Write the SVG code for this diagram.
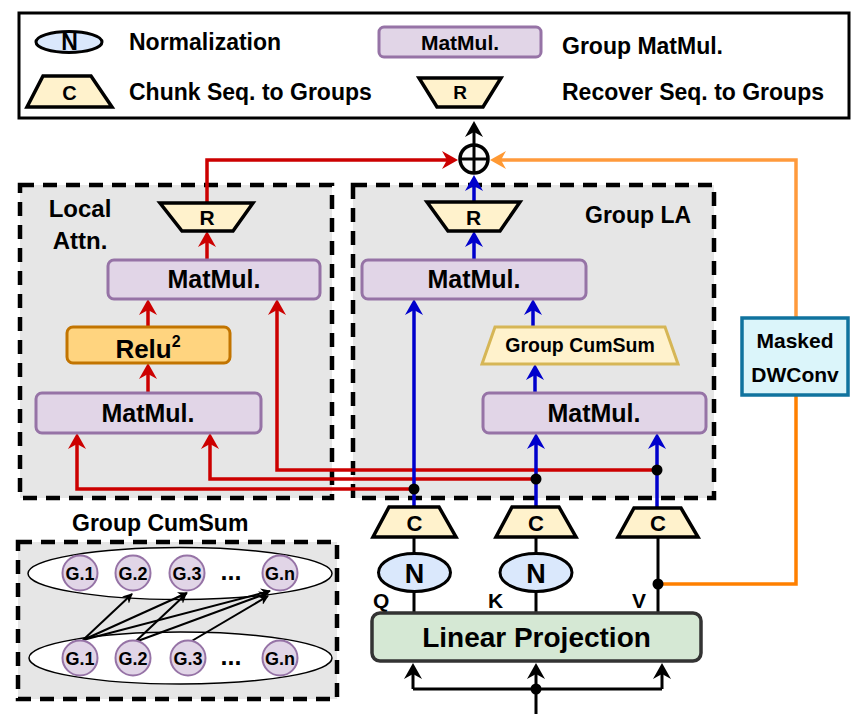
<svg xmlns="http://www.w3.org/2000/svg" width="864" height="714" viewBox="0 0 864 714">
<defs>
<style>
.t{font-family:"Liberation Sans",Arial,Helvetica,sans-serif;font-weight:bold;fill:#000}
.m{text-anchor:middle}
.cont{fill:#e6e6e6;stroke:#000;stroke-width:4.5;stroke-dasharray:14 9}
.mm{fill:#e1d5e7;stroke:#9673a6;stroke-width:3}
.trap{fill:#fff2cc;stroke:#000;stroke-width:3.5;stroke-linejoin:miter}
.nrm{fill:#dae8fc;stroke:#000;stroke-width:3}
.red{fill:none;stroke:#cc0000;stroke-width:3.5}
.blue{fill:none;stroke:#0000cc;stroke-width:3.5}
.blk{fill:none;stroke:#000;stroke-width:3}
.thin{fill:none;stroke:#000;stroke-width:2}
.dot{fill:#000}
.g{fill:#e1d5e7;stroke:#9673a6;stroke-width:2}
.ell{fill:#fff;stroke:#000;stroke-width:1.5}
</style>
<marker id="aRed" viewBox="0 0 16 18" markerWidth="16" markerHeight="18" refX="8" refY="9" orient="auto" markerUnits="userSpaceOnUse"><path d="M0,0 L16,9 L0,18 L5,9 Z" fill="#cc0000"/></marker>
<marker id="aBlue" viewBox="0 0 16 18" markerWidth="16" markerHeight="18" refX="8" refY="9" orient="auto" markerUnits="userSpaceOnUse"><path d="M0,0 L16,9 L0,18 L5,9 Z" fill="#0000cc"/></marker>
<marker id="aBlk" viewBox="0 0 16 18" markerWidth="16" markerHeight="18" refX="8" refY="9" orient="auto" markerUnits="userSpaceOnUse"><path d="M0,0 L16,9 L0,18 L5,9 Z" fill="#000"/></marker>
<marker id="aOr" viewBox="0 0 16 18" markerWidth="16" markerHeight="18" refX="8" refY="9" orient="auto" markerUnits="userSpaceOnUse"><path d="M0,0 L16,9 L0,18 L5,9 Z" fill="#ff9933"/></marker>
<marker id="aSm" viewBox="0 0 10 10" markerWidth="10" markerHeight="10" refX="9" refY="5" orient="auto" markerUnits="userSpaceOnUse"><path d="M0,0 L10,5 L0,10 L3,5 Z" fill="#000"/></marker>
</defs>

<!-- Legend -->
<g id="legend">
<rect x="19" y="13" width="830" height="105" fill="#fff" stroke="#000" stroke-width="3"/>
<ellipse cx="69" cy="42" rx="33" ry="10.5" class="nrm"/>
<text x="69.5" y="50" class="t m" font-size="23">N</text>
<text x="129" y="50" class="t" font-size="23">Normalization</text>
<rect x="379" y="27" width="162" height="30" rx="5" class="mm"/>
<text x="460" y="50" class="t m" font-size="21">MatMul.</text>
<text x="562" y="54" class="t" font-size="23">Group MatMul.</text>
<polygon points="43,76 91,76 112,107 27,107" class="trap" stroke-width="3"/>
<text x="69.5" y="100" class="t m" font-size="20">C</text>
<text x="129" y="100" class="t" font-size="23">Chunk Seq. to Groups</text>
<polygon points="419,78 501,78 483,107 437,107" class="trap" stroke-width="3"/>
<text x="460" y="99" class="t m" font-size="19">R</text>
<text x="562" y="100" class="t" font-size="23">Recover Seq. to Groups</text>
</g>

<!-- Containers -->
<g id="local-attn">
<rect x="20" y="185" width="312" height="313" class="cont"/>
<text x="80" y="217" class="t m" font-size="24">Local</text>
<text x="80" y="249" class="t m" font-size="24">Attn.</text>
</g>
<g id="group-la">
<rect x="353" y="185" width="361" height="313" class="cont"/>
<text x="585" y="223" class="t" font-size="23">Group LA</text>
</g>
<g id="group-cumsum-panel">
<text x="72" y="531" class="t" font-size="23">Group CumSum</text>
<rect x="18" y="542" width="319" height="157" class="cont"/>
<ellipse cx="180" cy="573.5" rx="152" ry="26" class="ell"/>
<ellipse cx="180.5" cy="658" rx="151.5" ry="26" class="ell"/>
</g>

<!-- Connectors -->
<g id="connectors">
<!-- output -->
<path d="M474,145 V129" class="blk" stroke-width="3.5" marker-end="url(#aBlk)"/>
<path d="M207,203 V160 H450" class="red" marker-end="url(#aRed)"/>
<path d="M796,318 V160 H498" fill="none" stroke="#ff9a3c" stroke-width="3.5" marker-end="url(#aOr)"/>
<path d="M658,584 H796 V395" fill="none" stroke="#ff8000" stroke-width="3.5"/>
<!-- local attn -->
<path d="M207,260 V239" class="red" marker-end="url(#aRed)"/>
<path d="M148,327 V307" class="red" marker-end="url(#aRed)"/>
<path d="M148,393 V371" class="red" marker-end="url(#aRed)"/>
<path d="M657,470 H277 V307" class="red" marker-end="url(#aRed)"/>
<path d="M536,479 H210 V441" class="red" marker-end="url(#aRed)"/>
<path d="M414,489 H77 V441" class="red" marker-end="url(#aRed)"/>
<!-- group la -->
<path d="M414,507 V307" class="blue" marker-end="url(#aBlue)"/>
<path d="M536,507 V441" class="blue" marker-end="url(#aBlue)"/>
<path d="M657,508 V441" class="blue" marker-end="url(#aBlue)"/>
<path d="M535,393 V372" class="blue" marker-end="url(#aBlue)"/>
<path d="M533,327 V307" class="blue" marker-end="url(#aBlue)"/>
<path d="M474,260 V239" class="blue" marker-end="url(#aBlue)"/>
<path d="M474,202 V183" class="blue" marker-end="url(#aBlue)"/>
<!-- QKV -->
<path d="M414,537 V553 M414,592 V613" class="blk"/>
<path d="M536,537 V553 M536,592 V613" class="blk"/>
<path d="M658,537 V613" class="blk"/>
<path d="M536,714 V689 M413,689 H662" class="blk"/>
<path d="M413,689 V671" class="blk" marker-end="url(#aBlk)"/>
<path d="M536,689 V671" class="blk" marker-end="url(#aBlk)"/>
<path d="M662,689 V671" class="blk" marker-end="url(#aBlk)"/>
<circle cx="414" cy="489" r="5.5" class="dot"/>
<circle cx="536" cy="479" r="5.5" class="dot"/>
<circle cx="657" cy="470" r="5.5" class="dot"/>
<circle cx="658" cy="584" r="5.5" class="dot"/>
<circle cx="536" cy="689" r="5.5" class="dot"/>
<!-- cumsum arrows -->
<path d="M83,640 L132,594" class="thin" marker-end="url(#aSm)"/>
<path d="M83,640 L187,593" class="thin" marker-end="url(#aSm)"/>
<path d="M83,640 L270,591" class="thin" marker-end="url(#aSm)"/>
<path d="M135,642 L186,594" class="thin" marker-end="url(#aSm)"/>
<path d="M135,642 L268,593" class="thin" marker-end="url(#aSm)"/>
<path d="M190,642 L268,596" class="thin" marker-end="url(#aSm)"/>
</g>

<!-- Nodes -->
<g id="add">
<circle cx="474" cy="159" r="14" fill="#fafafa" stroke="#000" stroke-width="3.5"/>
<path d="M460,159 H488 M474,145 V173" stroke="#000" stroke-width="3"/>
</g>
<g id="masked-dwconv">
<rect x="742" y="318" width="106" height="77" fill="#dbf5fa" stroke="#10739e" stroke-width="3.5"/>
<text x="795" y="348" class="t m" font-size="21">Masked</text>
<text x="795" y="382" class="t m" font-size="21">DWConv</text>
</g>
<g id="la-recover">
<polygon points="160,203 253,203 233,231 182,231" class="trap"/>
<text x="207" y="225" class="t m" font-size="21">R</text>
</g>
<g id="la-matmul2">
<rect x="108" y="260" width="212" height="39" rx="6" class="mm"/>
<text x="214" y="288" class="t m" font-size="25">MatMul.</text>
</g>
<g id="la-relu">
<rect x="67" y="327" width="163" height="36" rx="6" fill="#ffd47f" stroke="#c27400" stroke-width="3"/>
<text x="148" y="358" class="t m" font-size="26">Relu<tspan font-size="16" dy="-11">2</tspan></text>
</g>
<g id="la-matmul1">
<rect x="36" y="393" width="225" height="40" rx="6" class="mm"/>
<text x="148" y="422" class="t m" font-size="25">MatMul.</text>
</g>
<g id="gla-recover">
<polygon points="427,202 520,202 500,231 448,231" class="trap"/>
<text x="473.5" y="225" class="t m" font-size="21">R</text>
</g>
<g id="gla-matmul2">
<rect x="362" y="260" width="224" height="39" rx="6" class="mm"/>
<text x="474" y="288" class="t m" font-size="25">MatMul.</text>
</g>
<g id="gla-cumsum">
<polygon points="495,327 665,327 678,364 482,364" fill="#fff2cc" stroke="#d6b656" stroke-width="3"/>
<text x="580" y="352" class="t m" font-size="19.5">Group CumSum</text>
</g>
<g id="gla-matmul1">
<rect x="483" y="393" width="223" height="40" rx="6" class="mm"/>
<text x="594" y="422" class="t m" font-size="25">MatMul.</text>
</g>
<g id="chunk-q">
<polygon points="389,507 439,507 456,537 373,537" class="trap"/>
<text x="414.5" y="531" class="t m" font-size="22">C</text>
</g>
<g id="chunk-k">
<polygon points="512,507 559,507 576,537 496,537" class="trap"/>
<text x="536" y="531" class="t m" font-size="22">C</text>
</g>
<g id="chunk-v">
<polygon points="634,508 681,508 698,537 618,537" class="trap"/>
<text x="658" y="531" class="t m" font-size="22">C</text>
</g>
<g id="norm-q">
<ellipse cx="414.5" cy="572.5" rx="36" ry="19" class="nrm"/>
<text x="414.5" y="583" class="t m" font-size="27">N</text>
</g>
<g id="norm-k">
<ellipse cx="536" cy="572.5" rx="36" ry="19" class="nrm"/>
<text x="536" y="583" class="t m" font-size="27">N</text>
</g>
<g id="qkv-labels">
<text x="373" y="608" class="t" font-size="21">Q</text>
<text x="488" y="608" class="t" font-size="21">K</text>
<text x="632" y="608" class="t" font-size="21">V</text>
</g>
<g id="linear-projection">
<rect x="372" y="613" width="329" height="48" rx="8" fill="#d5e8d4" stroke="#333" stroke-width="3.5"/>
<text x="536.5" y="647" class="t m" font-size="28">Linear Projection</text>
</g>
<g id="cumsum-groups">
<circle cx="80" cy="573" r="17.5" class="g"/><text x="80" y="579.5" class="t m" font-size="18">G.1</text>
<circle cx="133" cy="573" r="17.5" class="g"/><text x="133" y="579.5" class="t m" font-size="18">G.2</text>
<circle cx="187" cy="573" r="17.5" class="g"/><text x="187" y="579.5" class="t m" font-size="18">G.3</text>
<text x="231" y="580" class="t m" font-size="25">...</text>
<circle cx="280" cy="573" r="17.5" class="g"/><text x="280" y="579.5" class="t m" font-size="18">G.n</text>
<circle cx="80" cy="658" r="17.5" class="g"/><text x="80" y="664.5" class="t m" font-size="18">G.1</text>
<circle cx="133" cy="658" r="17.5" class="g"/><text x="133" y="664.5" class="t m" font-size="18">G.2</text>
<circle cx="188" cy="658" r="17.5" class="g"/><text x="188" y="664.5" class="t m" font-size="18">G.3</text>
<text x="231" y="665" class="t m" font-size="25">...</text>
<circle cx="280" cy="658" r="17.5" class="g"/><text x="280" y="664.5" class="t m" font-size="18">G.n</text>
</g>
</svg>
